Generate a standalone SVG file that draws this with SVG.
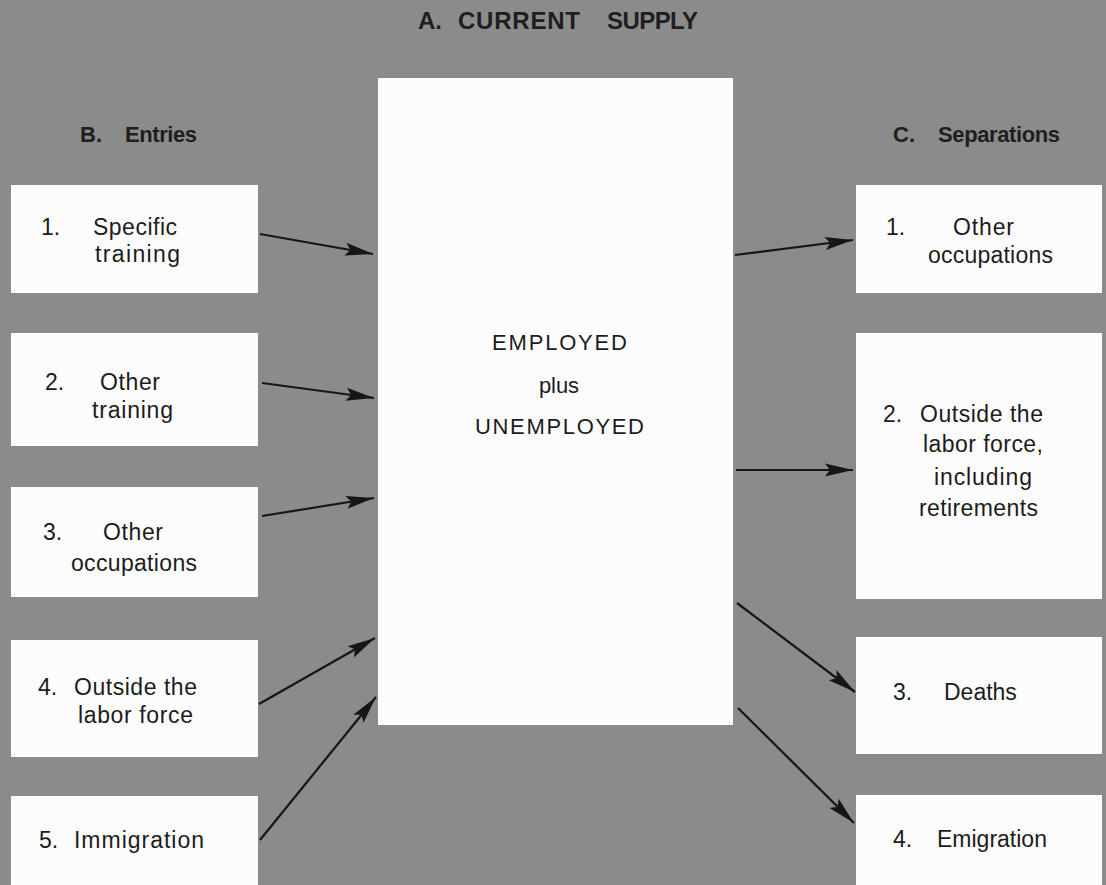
<svg xmlns="http://www.w3.org/2000/svg" width="1106" height="885" viewBox="0 0 1106 885">
<defs>
<style>
.bg{fill:#8b8b8b}
.box{fill:#fcfcfc}
.t{font-family:"Liberation Sans",Arial,sans-serif;font-size:23px;fill:#1c1c1c}
.h{font-family:"Liberation Sans",Arial,sans-serif;font-size:22px;font-weight:bold;fill:#1e1e1e}
.ti{font-family:"Liberation Sans",Arial,sans-serif;font-size:24px;font-weight:bold;fill:#1e1e1e}
.c{font-family:"Liberation Sans",Arial,sans-serif;font-size:22px;fill:#1c1c1c}
.a{stroke:#161616;stroke-width:2.2;fill:none;marker-end:url(#ah)}
</style>
<marker id="ah" markerUnits="userSpaceOnUse" markerWidth="30" markerHeight="16" refX="28" refY="8" orient="auto">
<path d="M0,1.5 L28,8 L0,14.5 L5,8 z" fill="#161616"/>
</marker>
</defs>
<rect class="bg" x="0" y="0" width="1106" height="885"/>
<g id="headings">
<text class="ti" x="418" y="29">A.</text>
<text class="ti" x="458" y="29" textLength="122" lengthAdjust="spacing">CURRENT</text>
<text class="ti" x="607" y="29" textLength="91" lengthAdjust="spacing">SUPPLY</text>
<text class="h" x="80" y="142">B.</text>
<text class="h" x="125" y="142" textLength="72" lengthAdjust="spacing">Entries</text>
<text class="h" x="893" y="142">C.</text>
<text class="h" x="938" y="142" textLength="122" lengthAdjust="spacing">Separations</text>
</g>
<g id="center">
<rect class="box" x="378" y="78" width="355" height="647"/>
<text class="c" x="492" y="350" textLength="135" lengthAdjust="spacing">EMPLOYED</text>
<text class="c" x="539" y="393" textLength="40" lengthAdjust="spacing">plus</text>
<text class="c" x="475" y="434" textLength="169" lengthAdjust="spacing">UNEMPLOYED</text>
</g>
<g id="entry1">
<rect class="box" x="11" y="185" width="247" height="108"/>
<text class="t" x="41" y="235">1.</text>
<text class="t" x="93" y="235" textLength="84" lengthAdjust="spacing">Specific</text>
<text class="t" x="95" y="262" textLength="85" lengthAdjust="spacing">training</text>
</g>
<g id="entry2">
<rect class="box" x="11" y="333" width="247" height="113"/>
<text class="t" x="45" y="390">2.</text>
<text class="t" x="100" y="390" textLength="60" lengthAdjust="spacing">Other</text>
<text class="t" x="92" y="418" textLength="81" lengthAdjust="spacing">training</text>
</g>
<g id="entry3">
<rect class="box" x="11" y="487" width="247" height="110"/>
<text class="t" x="43" y="540">3.</text>
<text class="t" x="103" y="540" textLength="60" lengthAdjust="spacing">Other</text>
<text class="t" x="71" y="571" textLength="126" lengthAdjust="spacing">occupations</text>
</g>
<g id="entry4">
<rect class="box" x="11" y="640" width="247" height="117"/>
<text class="t" x="38" y="695">4.</text>
<text class="t" x="74" y="695" textLength="123" lengthAdjust="spacing">Outside the</text>
<text class="t" x="78" y="723" textLength="115" lengthAdjust="spacing">labor force</text>
</g>
<g id="entry5">
<rect class="box" x="11" y="796" width="247" height="89"/>
<text class="t" x="39" y="848">5.</text>
<text class="t" x="74" y="848" textLength="130" lengthAdjust="spacing">Immigration</text>
</g>
<g id="sep1">
<rect class="box" x="856" y="185" width="246" height="108"/>
<text class="t" x="886" y="235">1.</text>
<text class="t" x="953" y="235" textLength="61" lengthAdjust="spacing">Other</text>
<text class="t" x="928" y="263" textLength="125" lengthAdjust="spacing">occupations</text>
</g>
<g id="sep2">
<rect class="box" x="856" y="333" width="246" height="266"/>
<text class="t" x="883" y="422">2.</text>
<text class="t" x="920" y="422" textLength="123" lengthAdjust="spacing">Outside the</text>
<text class="t" x="923" y="452" textLength="120" lengthAdjust="spacing">labor force,</text>
<text class="t" x="934" y="485" textLength="98" lengthAdjust="spacing">including</text>
<text class="t" x="919" y="516" textLength="119" lengthAdjust="spacing">retirements</text>
</g>
<g id="sep3">
<rect class="box" x="856" y="637" width="246" height="117"/>
<text class="t" x="893" y="700">3.</text>
<text class="t" x="944" y="700">Deaths</text>
</g>
<g id="sep4">
<rect class="box" x="856" y="795" width="246" height="90"/>
<text class="t" x="893" y="847">4.</text>
<text class="t" x="937" y="847">Emigration</text>
</g>
<g id="connectors">
<line class="a" x1="260" y1="234" x2="373" y2="254"/>
<line class="a" x1="262" y1="383" x2="374" y2="398"/>
<line class="a" x1="262" y1="516" x2="374" y2="498"/>
<line class="a" x1="259" y1="704" x2="375" y2="638"/>
<line class="a" x1="260" y1="840" x2="376" y2="697"/>
<line class="a" x1="735" y1="255" x2="853" y2="240"/>
<line class="a" x1="736" y1="470" x2="853" y2="470"/>
<line class="a" x1="737" y1="603" x2="855" y2="692"/>
<line class="a" x1="738" y1="708" x2="854" y2="823"/>
</g>
</svg>
